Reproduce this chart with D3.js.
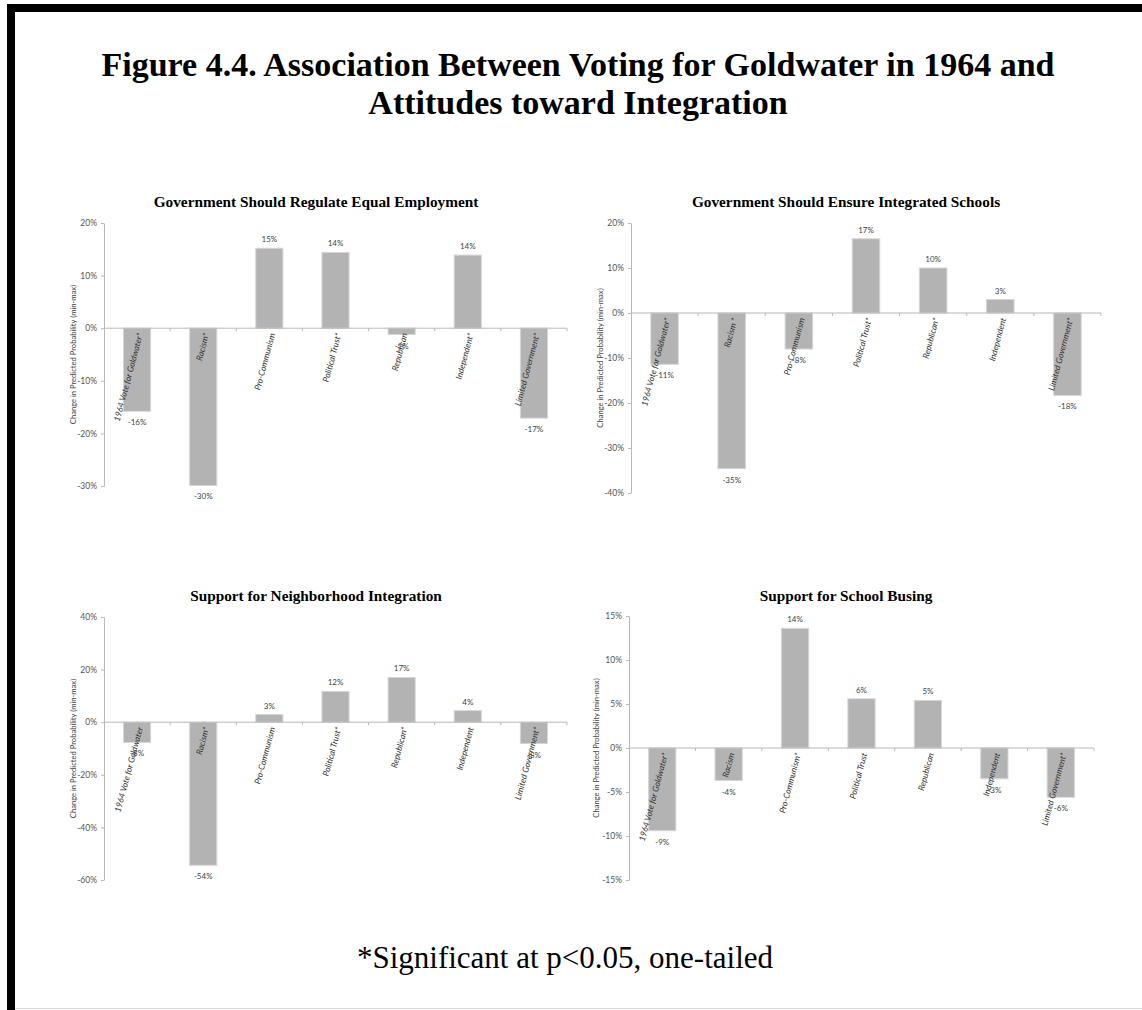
<!DOCTYPE html>
<html>
<head>
<meta charset="utf-8">
<script src="https://cdn.jsdelivr.net/npm/d3@7"></script>
<style>
  html, body { margin: 0; padding: 0; background: #fff; }
  svg { display: block; }
</style>
</head>
<body>
<svg id="chart" width="1142" height="1010"></svg>
<script>
// ---------- DATA ----------
const figureTitle = ["Figure 4.4. Association Between Voting for Goldwater in 1964 and", "Attitudes toward Integration"];
const footnote = "*Significant at p<0.05, one-tailed";
const yAxisTitle = "Change in Predicted Probability (min-max)";

const titleEmployment = "Government Should Regulate Equal Employment";
const catsEmployment = ["1964 Vote for Goldwater*", "Racism*", "Pro-Communism", "Political Trust*", "Republican", "Independent*", "Limited Government*"];
const valsEmployment = [-15.8, -29.9, 15.2, 14.4, -1.2, 13.9, -17.1];
const ticksEmployment = [-30, -20, -10, 0, 10, 20];

const titleSchools = "Government Should Ensure Integrated Schools";
const catsSchools = ["1964 Vote for Goldwater*", "Racism *", "Pro-Communism", "Political Trust*", "Republican*", "Independent", "Limited Government*"];
const valsSchools = [-11.4, -34.6, -8.0, 16.5, 10.0, 3.0, -18.3];
const ticksSchools = [-40, -30, -20, -10, 0, 10, 20];

const titleNeighborhood = "Support for Neighborhood Integration";
const catsNeighborhood = ["1964 Vote for Goldwater", "Racism*", "Pro-Communism", "Political Trust*", "Republican*", "Independent", "Limited Government*"];
const valsNeighborhood = [-7.7, -54.4, 2.9, 11.7, 17.0, 4.4, -8.1];
const ticksNeighborhood = [-60, -40, -20, 0, 20, 40];

const titleBusing = "Support for School Busing";
const catsBusing = ["1964 Vote for Goldwater*", "Racism", "Pro-Communism*", "Political Trust", "Republican", "Independent", "Limited Government*"];
const valsBusing = [-9.4, -3.7, 13.6, 5.6, 5.4, -3.5, -5.6];
const ticksBusing = [-15, -10, -5, 0, 5, 10, 15];

// ---------- LAYOUT ----------
const panels = [
  { title: titleEmployment, cats: catsEmployment, vals: valsEmployment, ticks: ticksEmployment,
    x0: 104, x1: 567, yTop: 223, yBot: 486, titleX: 316, titleY: 207, yTitleX: 73 },
  { title: titleSchools, cats: catsSchools, vals: valsSchools, ticks: ticksSchools,
    x0: 631, x1: 1101, yTop: 223, yBot: 493, titleX: 846, titleY: 207, yTitleX: 600 },
  { title: titleNeighborhood, cats: catsNeighborhood, vals: valsNeighborhood, ticks: ticksNeighborhood,
    x0: 104, x1: 567, yTop: 617, yBot: 880, titleX: 316, titleY: 601, yTitleX: 73 },
  { title: titleBusing, cats: catsBusing, vals: valsBusing, ticks: ticksBusing,
    x0: 629, x1: 1094, yTop: 616, yBot: 880, titleX: 846, titleY: 601, yTitleX: 596 }
];

const svg = d3.select("#chart");
const W = 1142, H = 1010;

svg.append("rect").attr("width", W).attr("height", H).attr("fill", "#fff");
// frame
svg.append("rect").attr("x", 7).attr("y", 4).attr("width", W - 7).attr("height", 8).attr("fill", "#000");
svg.append("rect").attr("x", 7).attr("y", 4).attr("width", 8).attr("height", H - 4).attr("fill", "#000");
svg.append("line").attr("x1", 15).attr("x2", W).attr("y1", 1008.5).attr("y2", 1008.5).attr("stroke", "#d8d8d8").attr("stroke-width", 1);

const serif = "'Liberation Serif', 'Times New Roman', serif";
const sans = "Lato, 'Open Sans', sans-serif";

svg.append("text")
  .attr("text-anchor", "middle")
  .attr("font-family", serif).attr("font-weight", "bold").attr("font-size", 34)
  .selectAll("tspan").data(figureTitle).join("tspan")
  .attr("x", 578).attr("y", (d, i) => 76 + i * 38).text(d => d);

svg.append("text")
  .attr("x", 565).attr("y", 968)
  .attr("text-anchor", "middle")
  .attr("font-family", serif).attr("font-size", 31)
  .text(footnote);

const fmt = v => Math.round(v) + "%";

panels.forEach(p => {
  const g = svg.append("g");
  const x = d3.scaleBand().domain(p.cats).range([p.x0, p.x1]).paddingInner(0.59).paddingOuter(0.295);
  const xb = d3.scaleBand().domain(p.cats).range([p.x0, p.x1]);
  const y = d3.scaleLinear().domain([p.ticks[0], p.ticks[p.ticks.length - 1]]).range([p.yBot, p.yTop]);
  const y0 = y(0);

  // title
  g.append("text").attr("x", p.titleX).attr("y", p.titleY)
    .attr("text-anchor", "middle")
    .attr("font-family", serif).attr("font-weight", "bold").attr("font-size", 15.3)
    .attr("fill", "#000").text(p.title);

  // y axis
  const yAxis = d3.axisLeft(y).tickValues(p.ticks).tickSize(3).tickSizeOuter(0).tickPadding(4)
    .tickFormat(d => d + "%");
  const ya = g.append("g").attr("transform", `translate(${p.x0},0)`).call(yAxis);
  ya.select(".domain").attr("stroke", "#b8b8b8");
  ya.selectAll(".tick line").attr("stroke", "#b8b8b8");
  ya.selectAll(".tick text").attr("font-family", sans).attr("font-size", 8.5).attr("fill", "#555");

  // y title
  g.append("text")
    .attr("transform", `translate(${p.yTitleX},${(p.yTop + p.yBot) / 2}) rotate(-90)`)
    .attr("text-anchor", "middle").attr("dy", "0.35em")
    .attr("font-family", sans).attr("font-size", 7.6).attr("fill", "#444")
    .text(yAxisTitle);

  // bars
  g.selectAll("rect.bar").data(p.vals).join("rect")
    .attr("class", "bar")
    .attr("x", (d, i) => x(p.cats[i]))
    .attr("width", x.bandwidth())
    .attr("y", d => Math.min(y(d), y0))
    .attr("height", d => Math.abs(y(d) - y0))
    .attr("fill", "#b3b3b3")
    .attr("stroke", "#d6d6d6").attr("stroke-width", 1);

  // x axis at zero
  const xa = g.append("g").attr("transform", `translate(0,${y0})`);
  xa.append("line").attr("x1", p.x0).attr("x2", p.x1).attr("stroke", "#b8b8b8");
  const bounds = p.cats.map(c => xb(c) + xb.bandwidth());
  xa.selectAll("line.tk").data(bounds).join("line").attr("class", "tk")
    .attr("x1", d => d).attr("x2", d => d).attr("y1", 0).attr("y2", 3).attr("stroke", "#b8b8b8");

  // value labels
  g.selectAll("text.val").data(p.vals).join("text")
    .attr("class", "val")
    .attr("x", (d, i) => x(p.cats[i]) + x.bandwidth() / 2)
    .attr("y", d => d >= 0 ? y(d) - 6 : y(d) + 14)
    .attr("text-anchor", "middle")
    .attr("font-family", sans).attr("font-size", 8).attr("fill", "#444")
    .text(fmt);

  // category labels
  g.selectAll("text.cat").data(p.cats).join("text")
    .attr("class", "cat")
    .attr("transform", c => `translate(${xb(c) + xb.bandwidth() / 2 + 3},${y0 + 5}) rotate(-75)`)
    .attr("text-anchor", "end").attr("dy", "0.35em")
    .attr("font-family", sans).attr("font-style", "italic").attr("font-size", 8.5).attr("fill", "#333")
    .text(c => c);
});
</script>
</body>
</html>
